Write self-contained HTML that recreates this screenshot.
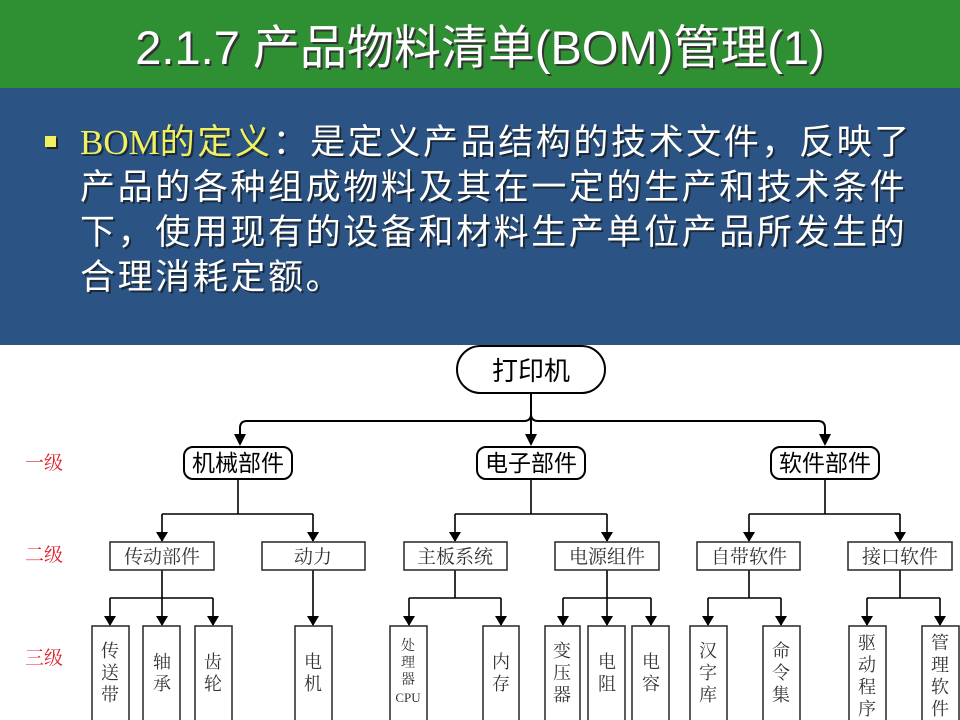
<!DOCTYPE html>
<html><head><meta charset="utf-8"><style>
html,body{margin:0;padding:0;width:960px;height:720px;overflow:hidden;background:#fff}
svg{display:block}
.c{font-family:"Liberation Serif","Noto Serif CJK SC","Noto Sans CJK SC",serif}
</style></head><body>
<svg width="960" height="720" xmlns="http://www.w3.org/2000/svg">
<rect x="0" y="0" width="960" height="88" fill="#2f8f33"/>
<rect x="0" y="88" width="960" height="257" fill="#2b5485"/>
<text x="482" y="66" font-family="Liberation Sans,Noto Sans CJK SC,sans-serif" font-size="47" fill="#333" text-anchor="middle">2.1.7 产品物料清单(BOM)管理(1)</text>
<text x="480" y="64" font-family="Liberation Sans,Noto Sans CJK SC,sans-serif" font-size="47" fill="#fff" text-anchor="middle">2.1.7 产品物料清单(BOM)管理(1)</text>
<rect x="47" y="138" width="11" height="11" fill="#222"/>
<rect x="45" y="136" width="11" height="11" fill="#f0f060"/>
<g font-family="Liberation Sans,Noto Sans CJK SC,sans-serif" font-size="35" letter-spacing="2.6">
<g fill="#1a2a3a" transform="translate(2,2)">
<text x="80" y="154"><tspan font-family="Liberation Serif,serif" letter-spacing="0">BOM</tspan>的定义：是定义产品结构的技术文件，反映了</text>
<text x="80" y="199">产品的各种组成物料及其在一定的生产和技术条件</text>
<text x="80" y="244">下，使用现有的设备和材料生产单位产品所发生的</text>
<text x="80" y="289">合理消耗定额。</text>
</g>
<text x="80" y="154" fill="#fff"><tspan fill="#f0f060" font-family="Liberation Serif,serif" letter-spacing="0">BOM</tspan><tspan fill="#f0f060">的定义</tspan>：是定义产品结构的技术文件，反映了</text>
<text x="80" y="199" fill="#fff">产品的各种组成物料及其在一定的生产和技术条件</text>
<text x="80" y="244" fill="#fff">下，使用现有的设备和材料生产单位产品所发生的</text>
<text x="80" y="289" fill="#fff">合理消耗定额。</text>
</g>

<g fill="none" stroke="#000" stroke-width="2">
<rect x="457" y="346" width="148" height="47" rx="23.5" fill="#fff"/>
<path d="M531,393 V414 Q531,421 524,421 H247 Q240,421 240,428 V436"/>
<path d="M531,414 Q531,421 538,421 H818 Q825,421 825,428 V436"/>
<path d="M531,414 V436"/>
<rect x="184" y="447" width="108" height="32" rx="9" fill="#fff"/>
<rect x="477" y="447" width="108" height="32" rx="9" fill="#fff"/>
<rect x="771" y="447" width="108" height="32" rx="9" fill="#fff"/>
</g>
<g fill="#000">
<path d="M234,434 h12 l-6,12z M525,434 h12 l-6,12z M819,434 h12 l-6,12z"/>
</g>
<g stroke="#000" stroke-width="1.6" fill="none">
<path d="M238,479 V514 M162,514 H313 M162,514 V541 M313,514 V541" />
<path d="M531,479 V514 M455,514 H607 M455,514 V541 M607,514 V541"/>
<path d="M825,479 V514 M749,514 H900 M749,514 V541 M900,514 V541"/>
<path d="M162,570 V598 M110,598 H213 M110,598 V625 M162,598 V625 M213,598 V625"/>
<path d="M313,570 V625"/>
<path d="M455,570 V598 M409,598 H501 M409,598 V625 M501,598 V625"/>
<path d="M607,570 V598 M563,598 H651 M563,598 V625 M607,598 V625 M651,598 V625"/>
<path d="M749,570 V598 M708,598 H781 M708,598 V625 M781,598 V625"/>
<path d="M900,570 V598 M867,598 H940 M867,598 V625 M940,598 V625"/>
</g>
<g fill="#000">
<path d="M156,532 h12 l-6,10z M307,532 h12 l-6,10z M449,532 h12 l-6,10z M601,532 h12 l-6,10z M743,532 h12 l-6,10z M894,532 h12 l-6,10z"/>
<path d="M104,616 h12 l-6,10z M156,616 h12 l-6,10z M207,616 h12 l-6,10z M307,616 h12 l-6,10z M403,616 h12 l-6,10z M495,616 h12 l-6,10z M557,616 h12 l-6,10z M601,616 h12 l-6,10z M645,616 h12 l-6,10z M702,616 h12 l-6,10z M775,616 h12 l-6,10z M861,616 h12 l-6,10z M934,616 h12 l-6,10z"/>
</g>
<g fill="#fff" stroke="#333" stroke-width="1.6">
<rect x="110" y="542" width="104" height="28"/><rect x="262" y="542" width="103" height="28"/>
<rect x="404" y="542" width="103" height="28"/><rect x="555" y="542" width="104" height="28"/>
<rect x="697" y="542" width="103" height="28"/><rect x="848" y="542" width="104" height="28"/>
<rect x="92" y="626" width="37" height="100"/><rect x="143" y="626" width="37" height="100"/>
<rect x="195" y="626" width="37" height="100"/><rect x="295" y="626" width="37" height="100"/>
<rect x="390" y="626" width="37" height="100"/><rect x="483" y="626" width="36" height="100"/>
<rect x="545" y="626" width="35" height="100"/><rect x="588" y="626" width="37" height="100"/>
<rect x="632" y="626" width="37" height="100"/><rect x="690" y="626" width="37" height="100"/>
<rect x="763" y="626" width="37" height="100"/><rect x="849" y="626" width="37" height="100"/>
<rect x="922" y="626" width="37" height="100"/>
</g>
<g class="c" text-anchor="middle">
<text x="531" y="380" font-size="26" font-family="Noto Sans CJK SC,sans-serif">打印机</text>
<g font-size="23" font-family="Noto Sans CJK SC,sans-serif">
<text x="238" y="471">机械部件</text><text x="531" y="471">电子部件</text><text x="825" y="471">软件部件</text>
</g>
<g font-size="19" fill="#333">
<text x="162" y="563">传动部件</text><text x="313" y="563">动力</text><text x="455" y="563">主板系统</text>
<text x="607" y="563">电源组件</text><text x="749" y="563">自带软件</text><text x="900" y="563">接口软件</text>
</g>
<g font-size="18" fill="#333">
<text x="110" y="657">传</text><text x="110" y="679">送</text><text x="110" y="701">带</text>
<text x="162" y="668">轴</text><text x="162" y="690">承</text>
<text x="213" y="668">齿</text><text x="213" y="690">轮</text>
<text x="313" y="668">电</text><text x="313" y="690">机</text>
<text x="408" y="650" font-size="14">处</text><text x="408" y="667" font-size="14">理</text><text x="408" y="684" font-size="14">器</text><text x="408" y="702" font-size="13">CPU</text>
<text x="501" y="668">内</text><text x="501" y="690">存</text>
<text x="562" y="657">变</text><text x="562" y="679">压</text><text x="562" y="701">器</text>
<text x="607" y="668">电</text><text x="607" y="690">阻</text>
<text x="651" y="668">电</text><text x="651" y="690">容</text>
<text x="708" y="657">汉</text><text x="708" y="679">字</text><text x="708" y="701">库</text>
<text x="781" y="657">命</text><text x="781" y="679">令</text><text x="781" y="701">集</text>
<text x="867" y="649">驱</text><text x="867" y="671">动</text><text x="867" y="693">程</text><text x="867" y="715">序</text>
<text x="940" y="649">管</text><text x="940" y="671">理</text><text x="940" y="693">软</text><text x="940" y="715">件</text>
</g>
<g font-size="19" fill="#e0202a">
<text x="44" y="469">一级</text><text x="44" y="561">二级</text><text x="44" y="664">三级</text>
</g>
</g>
</svg>
</body></html>
